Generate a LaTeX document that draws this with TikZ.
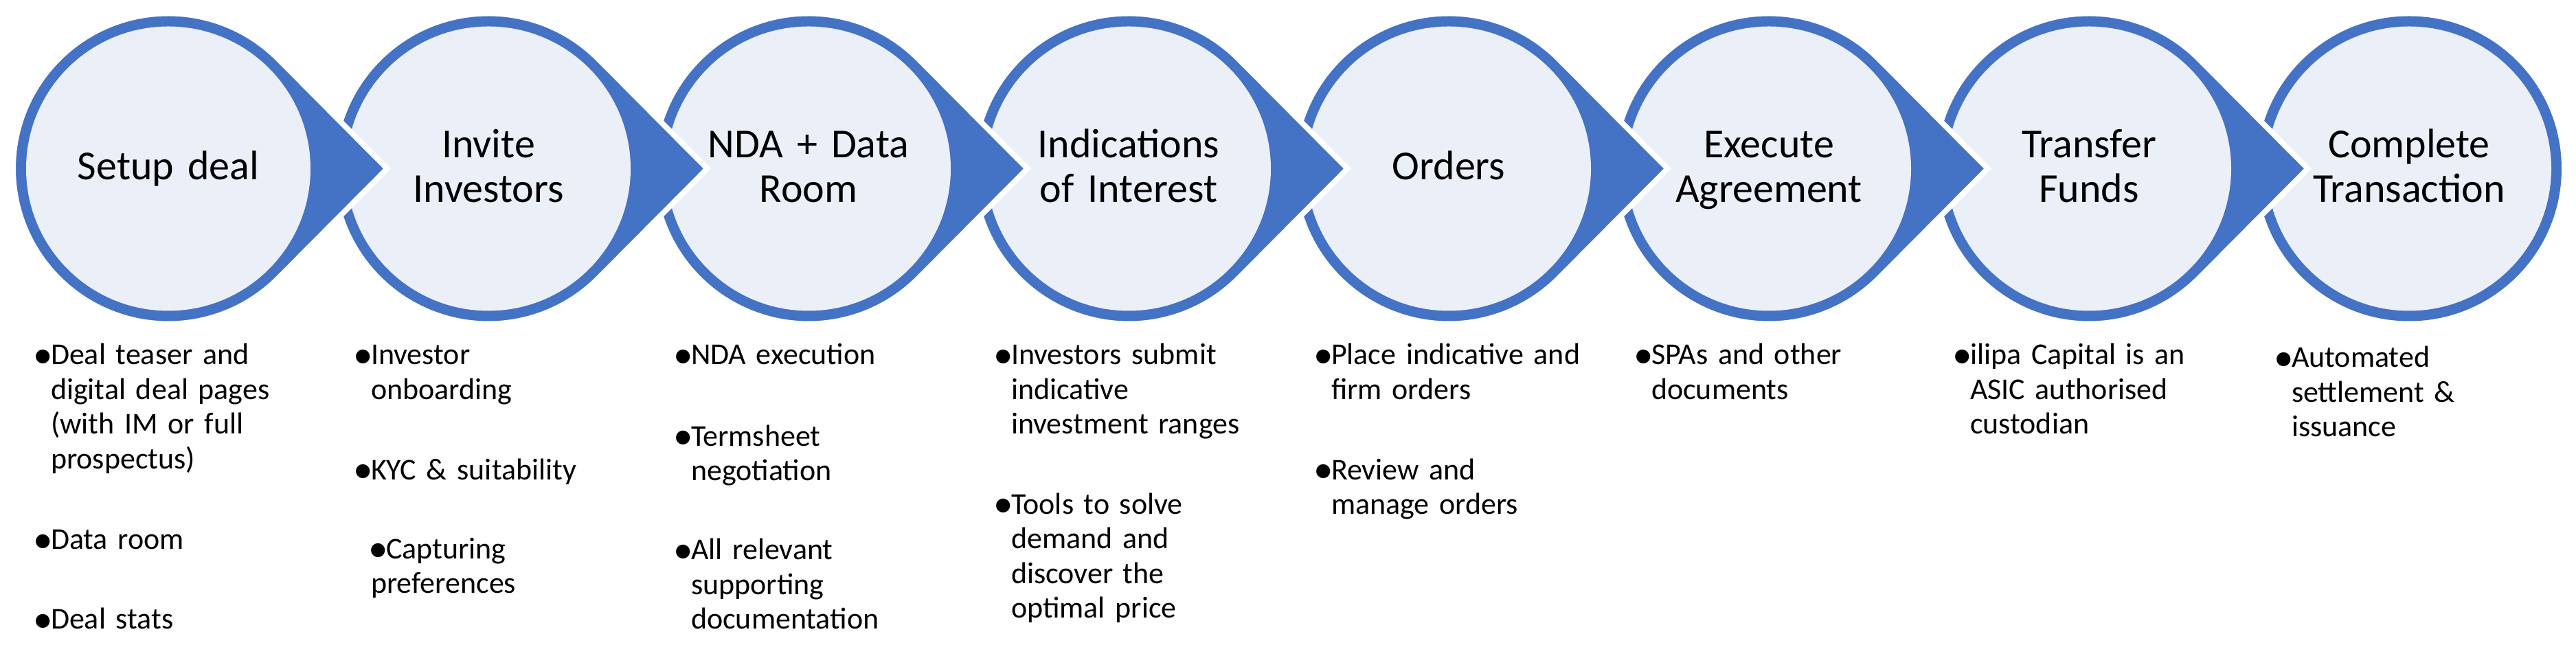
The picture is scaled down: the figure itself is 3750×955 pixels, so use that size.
\documentclass[tikz,border=0pt]{standalone}
\usepackage{fontspec}
\setmainfont{Carlito}
\definecolor{ringblue}{HTML}{4472C4}
\definecolor{innerfill}{HTML}{EBEFF8}
\begin{document}
\begin{tikzpicture}[x=0.2pt,y=-0.2pt,
  arrowdrop/.style={fill=ringblue, draw=white, line width=1.6pt, line join=miter},
  innerdisc/.style={circle, fill=innerfill, minimum size=82.8pt, inner sep=0pt, outer sep=0pt},
  heading/.style={font=\fontsize{12pt}{13.14pt}\selectfont, text width=90pt, align=center, anchor=base, inner sep=0pt},
  bullets/.style={font=\fontsize{8.8pt}{10.1pt}\selectfont, text width=90pt, align=left, anchor=base west, inner sep=0pt}]
\newcommand{\bul}{\llap{\raisebox{-0.1em}{\scalebox{1.3}{•}}\hspace{-0.5pt}}}
\fill[white] (0,0) rectangle (3750,955);
\useasboundingbox (0,0) rectangle (3750,955);

% last step (no arrow)
\fill[ringblue] (3507,245.5) circle[radius=44.4pt];
\node[innerdisc] (s8) at (3507,245.5) {};

% steps with arrow tips, drawn right to left
\foreach \k/\cx in {7/3041, 6/2575, 5/2109, 4/1643, 3/1177, 2/711, 1/245}{
  \path[arrowdrop] (\cx+318.6,245.5) -- ([shift={(\cx,245.5)}]-44.82:226)
     arc[start angle=44.82, end angle=315.18, radius=45.2pt] -- cycle;
  \node[innerdisc] (s\k) at (\cx,245.5) {};
}

% headings
\node[heading] (h1) at (245,262) {Setup deal};
\node[heading] (h2) at (711,229.3) {Invite\\Investors};
\node[heading] (h3) at (1177,229.3) {NDA + Data\\Room};
\node[heading] (h4) at (1643,229.3) {Indications\\of Interest};
\node[heading] (h5) at (2109,262) {Orders};
\node[heading] (h6) at (2575,229.3) {Execute\\Agreement};
\node[heading] (h7) at (3041,229.3) {Transfer\\Funds};
\node[heading] (h8) at (3507,229.3) {Complete\\Transaction};

% bullet texts
\node[bullets] (b11) at (73,531) {\bul Deal teaser and\\digital deal pages\\(with IM or full\\prospectus)};
\node[bullets] (b12) at (73,800) {\bul Data room};
\node[bullets] (b13) at (73,915.7) {\bul Deal stats};

\node[bullets] (b21) at (539,531) {\bul Investor\\onboarding};
\node[bullets] (b22) at (539,698.3) {\bul KYC \& suitability};
\node[bullets] (b23) at (539,813.3) {\hspace*{4.4pt}\bul Capturing\\preferences};

\node[bullets] (b31) at (1005,531) {\bul NDA execution};
\node[bullets] (b32) at (1005,649.3) {\bul Termsheet\\negotiation};
\node[bullets] (b33) at (1005,815) {\bul All relevant\\supporting\\documentation};

\node[bullets] (b41) at (1471,531) {\bul Investors submit\\indicative\\investment ranges};
\node[bullets] (b42) at (1471,748.3) {\bul Tools to solve\\demand and\\discover the\\optimal price};

\node[bullets] (b51) at (1937,531) {\bul Place indicative and\\firm orders};
\node[bullets] (b52) at (1937,698.3) {\bul Review and\\manage orders};

\node[bullets] (b61) at (2403,531) {\bul SPAs and other\\documents};

\node[bullets] (b71) at (2867,531) {\bul ilipa Capital is an\\ASIC authorised\\custodian};

\node[bullets] (b81) at (3335,535) {\bul Automated\\settlement \&\\issuance};
\end{tikzpicture}
\end{document}
